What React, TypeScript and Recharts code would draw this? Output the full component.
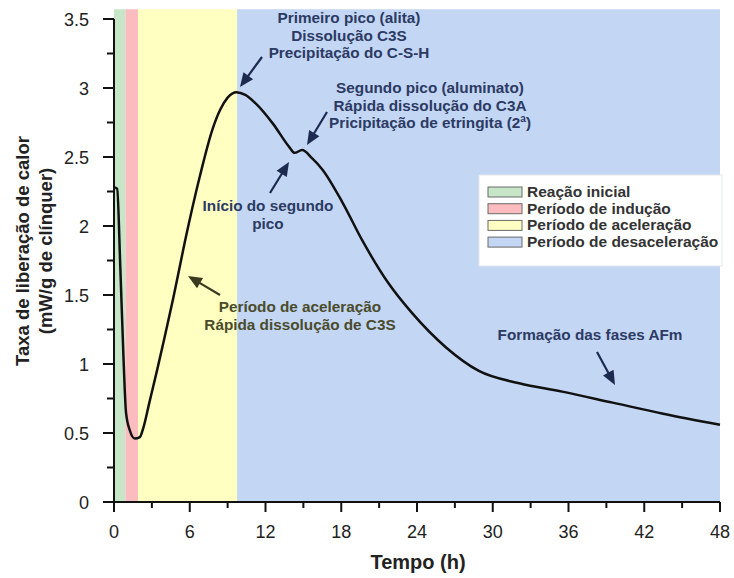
import React from 'react';
import { LineChart, Line, XAxis, YAxis, ReferenceArea, ReferenceLine } from 'recharts';

// heat flow curve (hours, mW/g)
const hours = [
  0.05, 0.25, 0.5, 0.75, 0.95, 1.25, 1.65, 2.05, 2.3, 2.8, 3.4, 4.0, 4.7, 5.6, 6.8, 7.8,
  8.4, 9.0, 9.7, 10.4, 11.2, 12.6, 13.9, 14.3, 14.9, 15.7, 16.5, 18.1, 19.7, 21.7, 23.6,
  26.3, 28.9, 32.1, 35.5, 39.5, 43.5, 48,
];
const heatRate = [
  2.28, 2.27, 1.7, 1.05, 0.65, 0.52, 0.46, 0.47, 0.53, 0.72, 0.95, 1.19, 1.48, 1.88, 2.36, 2.7,
  2.84, 2.93, 2.97, 2.95, 2.89, 2.74, 2.57, 2.53, 2.55, 2.49, 2.41, 2.17, 1.89, 1.59, 1.37,
  1.12, 0.95, 0.86, 0.8, 0.72, 0.64, 0.56,
];

const xTicks = [0, 3, 6, 9, 12, 15, 18, 21, 24, 27, 30, 33, 36, 39, 42, 45, 48];
const yTicks = [0, 0.25, 0.5, 0.75, 1, 1.25, 1.5, 1.75, 2, 2.25, 2.5, 2.75, 3, 3.25, 3.5];

// hydration periods
const phaseNames = ['Reação inicial', 'Período de indução', 'Período de aceleração', 'Período de desaceleração'];
const phaseStart = [0, 0.9, 1.9, 9.75];
const phaseEnd = [0.9, 1.9, 9.75, 48];
const phaseColors = ['#c6e6c7', '#fbbcc0', '#ffffc2', '#c3d6f3'];

const rows = hours.map((t, i) => ({ t, q: heatRate[i] }));

const FONT = '"Liberation Sans", Arial, sans-serif';
const NAVY = '#2c3a64';
const OLIVE = '#4a4b2c';
const BAND_TOP = 3.57;

const XTick = (props: any) => {
  const { x, y, payload } = props;
  const major = payload.value % 6 === 0;
  return (
    <g>
      <line x1={x} y1={y} x2={x} y2={y + (major ? 10 : 6)} stroke="#111" strokeWidth={2} />
      {major && (
        <text x={x} y={y + 36} textAnchor="middle" fontSize={18} fill="#222" fontFamily={FONT}>
          {payload.value}
        </text>
      )}
    </g>
  );
};

const YTick = (props: any) => {
  const { x, y, payload } = props;
  const major = payload.value % 0.5 === 0;
  return (
    <g>
      <line x1={x - (major ? 11 : 7)} y1={y} x2={x} y2={y} stroke="#111" strokeWidth={2} />
      {major && (
        <text x={x - 25} y={y + 6.5} textAnchor="end" fontSize={18} fill="#222" fontFamily={FONT}>
          {payload.value}
        </text>
      )}
    </g>
  );
};

const Arrow = ({ x1, y1, x2, y2, color }: { x1: number; y1: number; x2: number; y2: number; color: string }) => {
  const len = Math.hypot(x2 - x1, y2 - y1);
  const ux = (x2 - x1) / len;
  const uy = (y2 - y1) / len;
  const bx = x2 - ux * 14;
  const by = y2 - uy * 14;
  const pts = `${x2},${y2} ${bx - uy * 6},${by + ux * 6} ${bx + uy * 6},${by - ux * 6}`;
  return (
    <g>
      <line x1={x1} y1={y1} x2={bx + ux * 2} y2={by + uy * 2} stroke={color} strokeWidth={2.2} />
      <polygon points={pts} fill={color} />
    </g>
  );
};

const Note = ({ x, y, lines, color }: { x: number; y: number; lines: string[]; color: string }) => (
  <text textAnchor="middle" fontSize={15.3} fontWeight="bold" fill={color} fontFamily={FONT}>
    {lines.map((s, i) => (
      <tspan key={i} x={x} y={y + i * 17.5}>
        {s}
      </tspan>
    ))}
  </text>
);

// notes, legend box and axis titles, drawn on top of the period bands
const Annotations = () => (
  <g>
    <Note x={349} y={23} color={NAVY} lines={['Primeiro pico (alita)', 'Dissolução C3S', 'Precipitação do C-S-H']} />
    <Arrow x1={262} y1={57} x2={240} y2={87} color="#1c2a50" />

    <Note x={430} y={93} color={NAVY} lines={['Segundo pico (aluminato)', 'Rápida dissolução do C3A', 'Pricipitação de etringita (2ª)']} />
    <Arrow x1={327} y1={112} x2={307} y2={145} color="#1c2a50" />

    <Note x={268} y={211} color={NAVY} lines={['Início do segundo', 'pico']} />
    <Arrow x1={270} y1={193} x2={289} y2={162} color="#1c2a50" />

    <Note x={300} y={312} color={OLIVE} lines={['Período de aceleração', 'Rápida dissolução de C3S']} />
    <Arrow x1={220} y1={295} x2={188} y2={276} color="#3a3b1e" />

    <Note x={590} y={340} color={NAVY} lines={['Formação das fases AFm']} />
    <Arrow x1={597} y1={352} x2={615} y2={385} color="#1c2a50" />

    <rect x={479} y={175} width={243} height={91} fill="#ffffff" stroke="#e4e8ef" />
    {phaseNames.map((name, i) => (
      <g key={name}>
        <rect x={488} y={187 + i * 16.7} width={34} height={10} fill={phaseColors[i]} stroke="#6a6a6a" strokeWidth={1} />
        <text x={527} y={197 + i * 16.7} fontSize={15.5} fontWeight="bold" fill="#333" fontFamily={FONT}>
          {name}
        </text>
      </g>
    ))}

    <text
      x={22}
      y={251}
      transform="rotate(-90, 22, 251)"
      textAnchor="middle"
      dominantBaseline="central"
      fontSize={18.5}
      fontWeight="bold"
      fill="#222"
      fontFamily={FONT}
    >
      Taxa de liberação de calor
    </text>
    <text
      x={45}
      y={251}
      transform="rotate(-90, 45, 251)"
      textAnchor="middle"
      dominantBaseline="central"
      fontSize={18.5}
      fontWeight="bold"
      fill="#222"
      fontFamily={FONT}
    >
      (mW/g de clínquer)
    </text>
    <text x={418} y={569} textAnchor="middle" fontSize={20} fontWeight="bold" fill="#222" fontFamily={FONT}>
      Tempo (h)
    </text>
  </g>
);

export default function App() {
  const last = phaseNames.length - 1;
  return (
    <div style={{ position: 'absolute', left: 0, top: 0, width: 734, height: 578, background: '#fff' }}>
      <LineChart width={734} height={578} data={rows} margin={{ top: 19, right: 14, bottom: 0, left: 0 }}>
        <XAxis
          dataKey="t"
          type="number"
          domain={[0, 48]}
          ticks={xTicks}
          interval={0}
          height={76}
          tickSize={0}
          tickMargin={0}
          tickLine={false}
          tick={<XTick />}
          axisLine={{ stroke: '#111', strokeWidth: 2 }}
        />
        <YAxis
          type="number"
          domain={[0, 3.5]}
          ticks={yTicks}
          interval={0}
          width={114}
          tickSize={0}
          tickMargin={0}
          tickLine={false}
          tick={<YTick />}
          axisLine={{ stroke: '#111', strokeWidth: 2 }}
        />
        {phaseNames.map((name, i) => (
          <ReferenceArea
            key={name}
            x1={phaseStart[i]}
            x2={phaseEnd[i]}
            y1={0}
            y2={BAND_TOP}
            fill={phaseColors[i]}
            fillOpacity={1}
            stroke="none"
            ifOverflow="visible"
            label={i === last ? <Annotations /> : undefined}
          />
        ))}
        <ReferenceLine x={0} stroke="#111" strokeWidth={2} ifOverflow="visible" />
        <ReferenceLine y={0} stroke="#111" strokeWidth={2} ifOverflow="visible" />
        <Line
          dataKey="q"
          type="monotone"
          stroke="#111"
          strokeWidth={2.5}
          dot={false}
          isAnimationActive={false}
        />
      </LineChart>
    </div>
  );
}
